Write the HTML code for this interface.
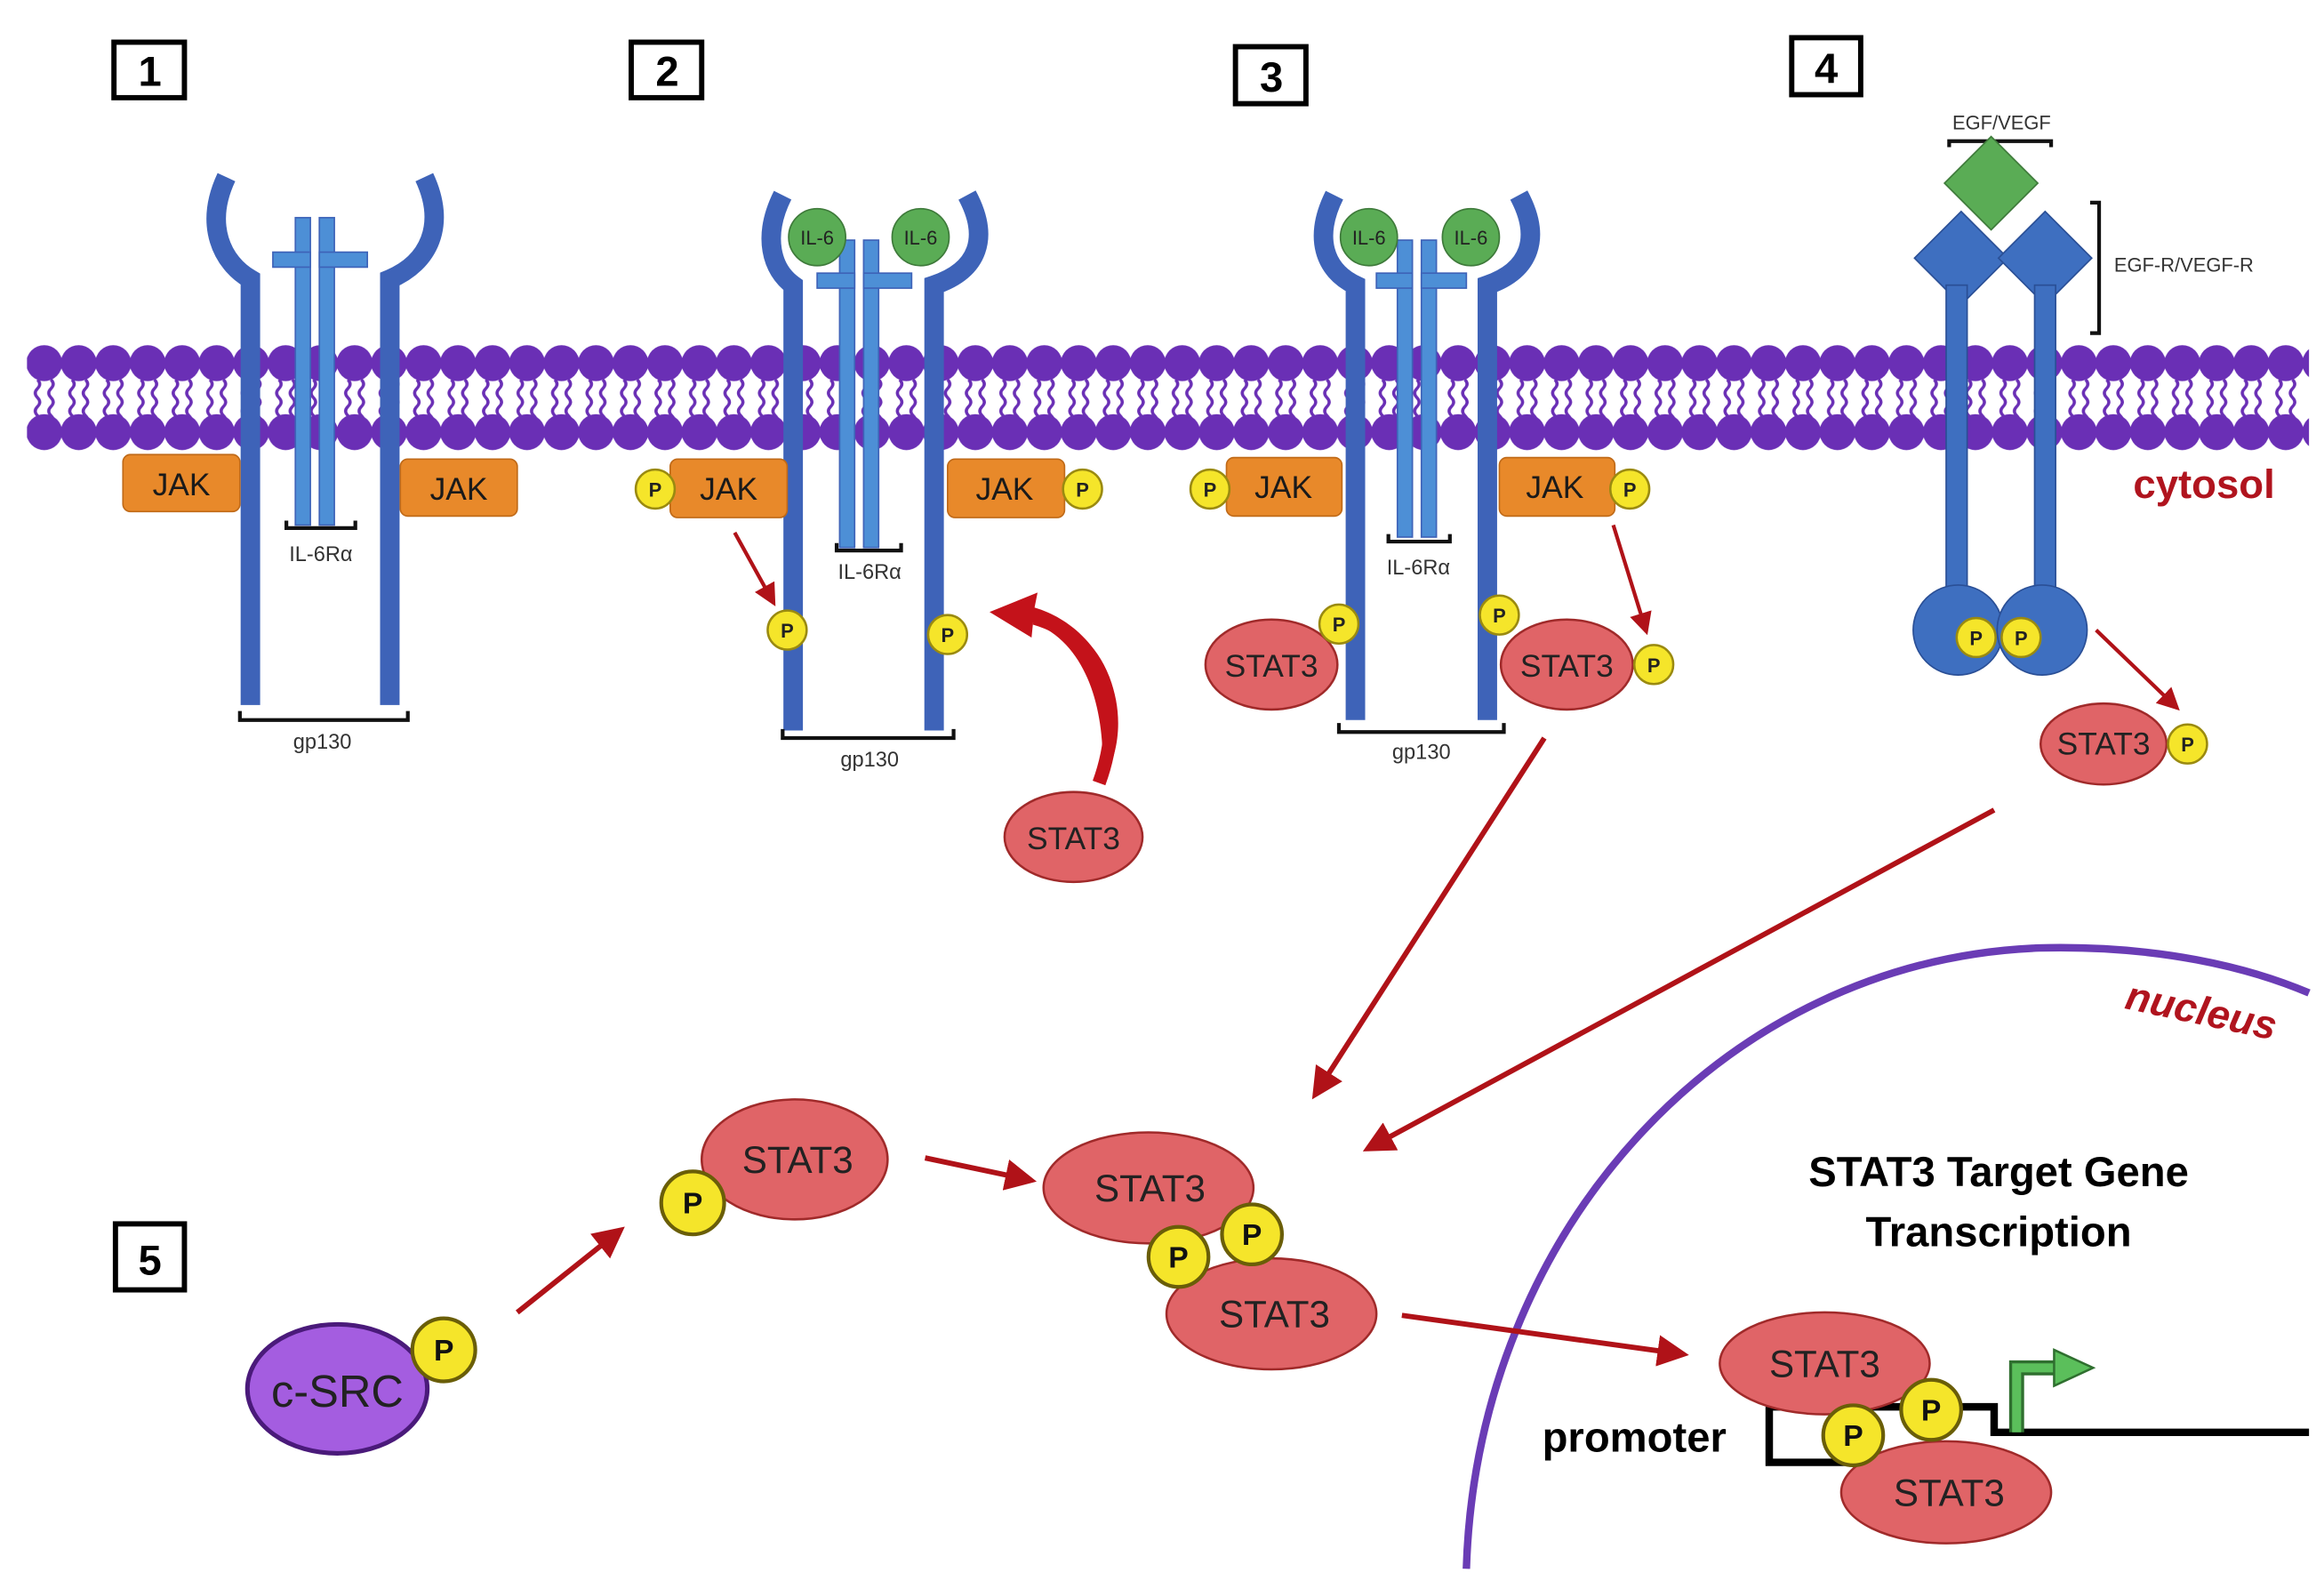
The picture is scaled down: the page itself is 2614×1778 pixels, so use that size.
<!DOCTYPE html>
<html><head><meta charset="utf-8"><style>
html,body{margin:0;padding:0;background:#fff}
svg{display:block}
text{font-family:"Liberation Sans",Arial,sans-serif}
</style></head><body>
<svg width="2614" height="1778" viewBox="0 0 1550 1054" xmlns="http://www.w3.org/2000/svg">
<defs>
<pattern id="mem" patternUnits="userSpaceOnUse" x="18" y="229" width="23" height="72">
<path d="M7,24 q3,3 0,6 q-3,3 0,6 q3,3 0,6 q-3,3 0,6 q3,3 0,6 M16,24 q3,3 0,6 q-3,3 0,6 q3,3 0,6 q-3,3 0,6 q3,3 0,6" fill="none" stroke="#6a2fb5" stroke-width="2"/>
<circle cx="11.5" cy="13" r="12" fill="#6a2fb5"/>
<circle cx="11.5" cy="59" r="12" fill="#6a2fb5"/>
</pattern>
<marker id="ah" markerWidth="6" markerHeight="6" refX="5" refY="3" orient="auto" markerUnits="strokeWidth">
<path d="M0,0 L6,3 L0,6 z" fill="#b01218"/></marker>
</defs>

<!-- membrane -->
<rect x="18" y="229" width="1522" height="72" fill="url(#mem)"/>

<!-- numbered boxes -->
<g fill="#fff" stroke="#000" stroke-width="3.5">
<rect x="76" y="28" width="47" height="37"/><rect x="421" y="28" width="47" height="37"/>
<rect x="824" y="31" width="47" height="38"/><rect x="1195" y="25" width="46" height="38"/>
<rect x="77" y="816" width="46" height="44"/></g>
<g font-size="28" font-weight="bold" text-anchor="middle">
<text x="100" y="57">1</text><text x="445" y="57">2</text><text x="848" y="61">3</text><text x="1218" y="55">4</text><text x="100" y="850">5</text></g>

<!-- Panel 1 -->
<g fill="none" stroke="#3e63b8" stroke-width="13">
<path d="M151,118 C136,150 148,175 167,186 L167,470"/>
<path d="M283,118 C298,150 286,175 260,186 L260,470"/>
<path d="M522,130 C508,158 515,180 529,190 L529,487"/>
<path d="M645,130 C660,158 653,180 623,190 L623,487"/>
<path d="M890,130 C876,158 883,180 904,190 L904,480"/>
<path d="M1013,130 C1028,158 1021,180 992,190 L992,480"/>
</g>
<!-- IL-6Ra bars -->
<g fill="#4d8fd6" stroke="#3e63b8" stroke-width="1">
<rect x="197" y="145" width="10" height="205"/><rect x="213" y="145" width="10" height="205"/>
<rect x="182" y="168" width="25" height="10"/><rect x="213" y="168" width="32" height="10"/>
<rect x="560" y="160" width="10" height="205"/><rect x="576" y="160" width="10" height="205"/>
<rect x="545" y="182" width="25" height="10"/><rect x="576" y="182" width="32" height="10"/>
<rect x="932" y="160" width="10" height="198"/><rect x="948" y="160" width="10" height="198"/>
<rect x="918" y="182" width="24" height="10"/><rect x="948" y="182" width="30" height="10"/>
</g>
<!-- IL-6 -->
<g fill="#5aac55" stroke="#3e7a3a" stroke-width="1">
<circle cx="545" cy="158" r="19"/><circle cx="614" cy="158" r="19"/>
<circle cx="913" cy="158" r="19"/><circle cx="981" cy="158" r="19"/></g>
<g font-size="13" text-anchor="middle" fill="#222">
<text x="545" y="163">IL-6</text><text x="614" y="163">IL-6</text>
<text x="913" y="163">IL-6</text><text x="981" y="163">IL-6</text></g>

<!-- brackets -->
<g fill="none" stroke="#111" stroke-width="2.5">
<path d="M191,347 V352 H237 V347"/><path d="M558,362 V367 H601 V362"/><path d="M926,356 V361 H967 V356"/>
<path d="M160,474 V480 H272 V474"/><path d="M522,486 V492 H636 V486"/><path d="M893,482 V488 H1003 V482"/>
<path d="M1300,98 V94 H1368 V98"/><path d="M1394,135 H1400 V222 H1394"/>
</g>
<g font-size="14" text-anchor="middle" fill="#333">
<text x="214" y="374">IL-6Rα</text><text x="580" y="386">IL-6Rα</text><text x="946" y="383">IL-6Rα</text>
<text x="215" y="499">gp130</text><text x="580" y="511">gp130</text><text x="948" y="506">gp130</text>
<text x="1335" y="86" font-size="13">EGF/VEGF</text>
<text x="1410" y="181" text-anchor="start" font-size="13">EGF-R/VEGF-R</text></g>

<!-- JAK -->
<g fill="#e8892a" stroke="#c06a18" stroke-width="1">
<rect x="82" y="303" width="78" height="38" rx="5"/><rect x="267" y="306" width="78" height="38" rx="5"/>
<rect x="447" y="306" width="78" height="39" rx="5"/><rect x="632" y="306" width="78" height="39" rx="5"/>
<rect x="818" y="305" width="77" height="39" rx="5"/><rect x="1000" y="305" width="77" height="39" rx="5"/></g>
<g font-size="21" text-anchor="middle" fill="#1a1a1a">
<text x="121" y="330">JAK</text><text x="306" y="333">JAK</text><text x="486" y="333">JAK</text>
<text x="670" y="333">JAK</text><text x="856" y="332">JAK</text><text x="1037" y="332">JAK</text></g>

<!-- Panel 4 receptor -->
<rect x="1306" y="100" width="44" height="44" transform="rotate(45 1328 122)" fill="#5aac55" stroke="#3e7a3a"/>
<g fill="#3e6fc0" stroke="#2a4f96" stroke-width="1">
<rect x="1286" y="150" width="44" height="44" transform="rotate(45 1308 172)"/>
<rect x="1342" y="150" width="44" height="44" transform="rotate(45 1364 172)"/>
<rect x="1298" y="190" width="14" height="215"/><rect x="1357" y="190" width="14" height="215"/>
<circle cx="1306" cy="420" r="30"/><circle cx="1362" cy="420" r="30"/></g>
<text x="1470" y="332" font-size="27" font-weight="bold" fill="#b0141e" text-anchor="middle">cytosol</text>

<!-- nucleus -->
<path d="M978,1046 C985,820 1150,640 1360,632 C1440,630 1500,645 1540,662" fill="none" stroke="#6a3cb5" stroke-width="5"/>
<text x="1468" y="683" font-size="27" font-weight="bold" font-style="italic" fill="#b0141e" text-anchor="middle" transform="rotate(12 1468 675)">nucleus</text>
<text x="1333" y="791" font-size="28" font-weight="bold" text-anchor="middle">STAT3 Target Gene</text>
<text x="1333" y="831" font-size="28" font-weight="bold" text-anchor="middle">Transcription</text>

<!-- DNA / promoter -->
<path d="M1180,938 H1330 V955 H1540 M1180,938 V975 H1240" fill="none" stroke="#000" stroke-width="5"/>
<text x="1090" y="968" font-size="28" font-weight="bold" text-anchor="middle">promoter</text>

<!-- arrows -->
<g stroke="#b01218" fill="none" stroke-width="3.5" marker-end="url(#ah)">
<path d="M490,355 L516,402" stroke-width="2.5"/>
<path d="M1076,350 L1098,421" stroke-width="2.5"/>
<path d="M1398,420 L1452,472" stroke-width="2.5"/>
<path d="M1030,492 L877,730"/>
<path d="M1330,540 L912,766"/>
<path d="M345,875 L414,820"/>
<path d="M617,772 L688,787"/>
<path d="M935,877 L1123,903"/>
</g>
<!-- curved big arrow -->
<path d="M735,522 C760,480 740,420 690,405 L692,395 L660,408 L688,425 L689,415 C728,430 738,480 735,522 Z" fill="#c4121a"/>
<path d="M733,522 C752,470 735,425 690,412" fill="none" stroke="#c4121a" stroke-width="9"/>

<!-- STAT3s -->
<g fill="#e06467" stroke="#a02a2a" stroke-width="1.5">
<ellipse cx="716" cy="558" rx="46" ry="30"/>
<ellipse cx="848" cy="443" rx="44" ry="30"/><ellipse cx="1045" cy="443" rx="44" ry="30"/>
<ellipse cx="1403" cy="496" rx="42" ry="27"/>
<ellipse cx="530" cy="773" rx="62" ry="40"/>
<ellipse cx="766" cy="792" rx="70" ry="37"/><ellipse cx="848" cy="876" rx="70" ry="37"/>
<ellipse cx="1217" cy="909" rx="70" ry="34"/><ellipse cx="1298" cy="995" rx="70" ry="34"/></g>
<ellipse cx="225" cy="926" rx="60" ry="43" fill="#a45de0" stroke="#4a1a7a" stroke-width="3"/>
<g font-size="21" text-anchor="middle" fill="#222">
<text x="716" y="566">STAT3</text><text x="848" y="451">STAT3</text><text x="1045" y="451">STAT3</text>
<text x="1403" y="503">STAT3</text></g>
<g font-size="25" text-anchor="middle" fill="#222">
<text x="532" y="782">STAT3</text><text x="767" y="801">STAT3</text><text x="850" y="885">STAT3</text>
<text x="1217" y="918">STAT3</text><text x="1300" y="1004">STAT3</text>
<text x="225" y="938" font-size="30">c-SRC</text></g>

<!-- green TSS arrow -->
<path d="M1345,955 V912 H1372" fill="none" stroke="#2f6f2f" stroke-width="10"/>
<path d="M1345,955 V912 H1372" fill="none" stroke="#5bbf5b" stroke-width="6"/>
<path d="M1370,900 L1396,912 L1370,924 Z" fill="#5bbf5b" stroke="#2f6f2f" stroke-width="1.5"/>

<!-- small P -->
<g fill="#f5e52a" stroke="#9a8a10" stroke-width="1.5">
<circle cx="437" cy="326" r="13"/><circle cx="722" cy="326" r="13"/>
<circle cx="525" cy="420" r="13"/><circle cx="632" cy="423" r="13"/>
<circle cx="807" cy="326" r="13"/><circle cx="1087" cy="326" r="13"/>
<circle cx="893" cy="416" r="13"/><circle cx="1000" cy="410" r="13"/><circle cx="1103" cy="443" r="13"/>
<circle cx="1318" cy="425" r="13"/><circle cx="1348" cy="425" r="13"/><circle cx="1459" cy="496" r="13"/></g>
<g font-size="13" font-weight="bold" text-anchor="middle" fill="#222">
<text x="437" y="331">P</text><text x="722" y="331">P</text><text x="525" y="425">P</text><text x="632" y="428">P</text>
<text x="807" y="331">P</text><text x="1087" y="331">P</text><text x="893" y="421">P</text><text x="1000" y="415">P</text>
<text x="1103" y="448">P</text><text x="1318" y="430">P</text><text x="1348" y="430">P</text><text x="1459" y="501">P</text></g>
<!-- big P -->
<g fill="#f5e52a" stroke="#6a5e08" stroke-width="2.5">
<circle cx="296" cy="900" r="21"/><circle cx="462" cy="802" r="21"/>
<circle cx="786" cy="838" r="20"/><circle cx="835" cy="823" r="20"/>
<circle cx="1236" cy="957" r="20"/><circle cx="1288" cy="940" r="20"/></g>
<g font-size="20" font-weight="bold" text-anchor="middle" fill="#111">
<text x="296" y="907">P</text><text x="462" y="809">P</text><text x="786" y="845">P</text><text x="835" y="830">P</text>
<text x="1236" y="964">P</text><text x="1288" y="947">P</text></g>
</svg>
</body></html>
